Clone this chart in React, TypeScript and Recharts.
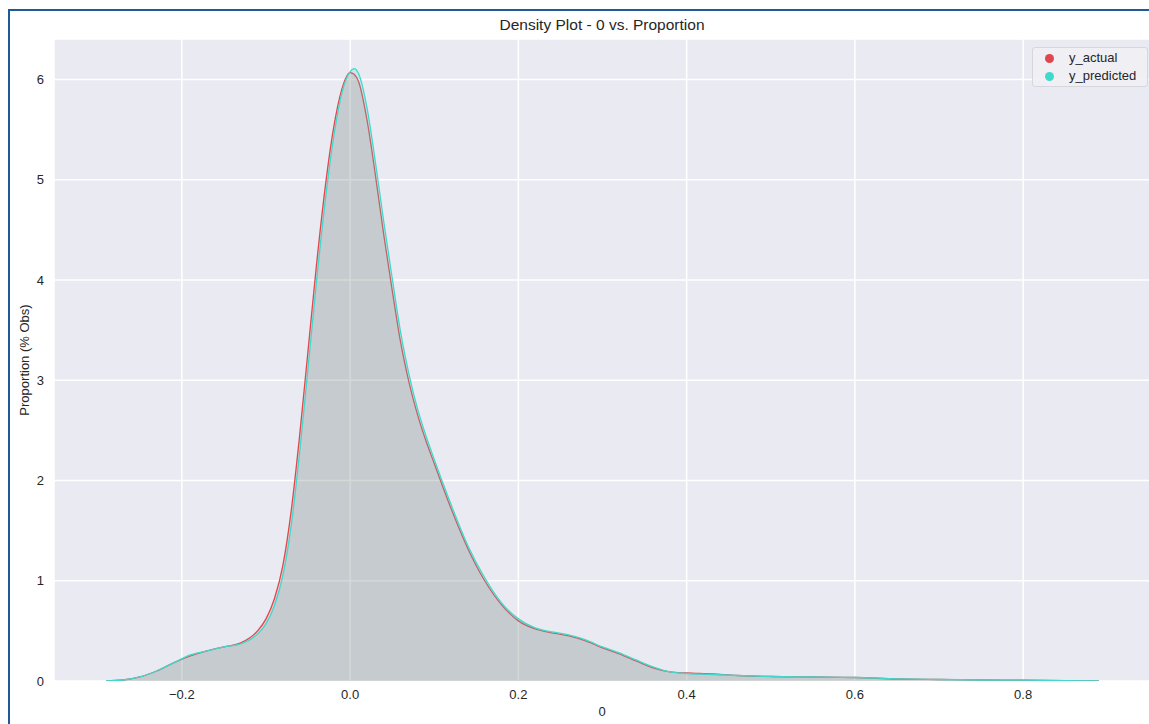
import React from "react";
import { Area, CartesianGrid, ComposedChart, XAxis, YAxis } from "recharts";

// kde sample points
const xValues = [
  -0.29, -0.27, -0.25, -0.23, -0.21, -0.19, -0.17, -0.15, -0.13, -0.11, -0.1,
  -0.09, -0.08, -0.07, -0.06, -0.05, -0.04, -0.03, -0.02, -0.01, 0, 0.005, 0.01,
  0.02, 0.03, 0.04, 0.05, 0.06, 0.07, 0.08, 0.09, 0.1, 0.12, 0.14, 0.16, 0.18,
  0.2, 0.22, 0.24, 0.26, 0.28, 0.3, 0.32, 0.34, 0.36, 0.38, 0.4, 0.43, 0.46, 0.5,
  0.55, 0.6, 0.65, 0.7, 0.75, 0.8, 0.85, 0.89,
];

const actualValues = [
  0, 0.01, 0.04, 0.1, 0.18, 0.25, 0.3, 0.34, 0.38, 0.5, 0.62, 0.82, 1.15, 1.7,
  2.45, 3.3, 4.15, 4.9, 5.5, 5.9, 6.07, 6.05, 5.98, 5.6, 5.05, 4.45, 3.9, 3.38,
  2.98, 2.66, 2.4, 2.17, 1.72, 1.32, 1.0, 0.76, 0.6, 0.52, 0.48, 0.45, 0.4, 0.33,
  0.27, 0.2, 0.13, 0.09, 0.08, 0.07, 0.055, 0.045, 0.04, 0.035, 0.02, 0.015,
  0.01, 0.008, 0.004, 0,
];

const predictedValues = [
  0, 0.01, 0.04, 0.1, 0.18, 0.26, 0.3, 0.34, 0.37, 0.47, 0.57, 0.75, 1.05, 1.55,
  2.28, 3.12, 3.98, 4.76, 5.4, 5.86, 6.08, 6.11, 6.06, 5.72, 5.18, 4.58, 4.02,
  3.48, 3.06, 2.72, 2.45, 2.21, 1.76, 1.35, 1.03, 0.78, 0.62, 0.53, 0.49, 0.46,
  0.41, 0.34, 0.28, 0.21, 0.14, 0.09, 0.075, 0.065, 0.055, 0.045, 0.04, 0.035,
  0.022, 0.015, 0.01, 0.008, 0.004, 0,
];

const xTicks = [-0.2, 0, 0.2, 0.4, 0.6, 0.8];
const yTicks = [0, 1, 2, 3, 4, 5, 6];
const seriesNames = ["y_actual", "y_predicted"];
const seriesColors = ["#e0474c", "#40d9cc"];

const FONT = "'Liberation Sans', Arial, sans-serif";
const TEXT = "#262626";

const chartData = xValues.map((x, i) => ({
  x,
  y_actual: actualValues[i],
  y_predicted: predictedValues[i],
}));

const fmtX = (v: number) => v.toFixed(1).replace("-", "\u2212");

const LegendBox = () => (
  <div
    style={{
      position: "absolute",
      left: 1032,
      top: 47,
      width: 116,
      boxSizing: "border-box",
      background: "rgba(240,240,245,0.85)",
      border: "1px solid #d6d6de",
      borderRadius: 3,
      padding: "1px 8px 1px 12px",
      fontFamily: FONT,
      fontSize: 13,
      color: TEXT,
      lineHeight: "18px",
    }}
  >
    {seriesNames.map((name, i) => (
      <div key={name} style={{ display: "flex", alignItems: "center" }}>
        <span
          style={{
            width: 9,
            height: 9,
            borderRadius: "50%",
            background: seriesColors[i],
            marginRight: 15,
          }}
        />
        <span>{name}</span>
      </div>
    ))}
  </div>
);

export default function App() {
  return (
    <div
      style={{
        position: "absolute",
        left: 0,
        top: 0,
        width: 1149,
        height: 724,
        overflow: "hidden",
        background: "#fff",
      }}
    >
      {/* screenshot frame */}
      <div
        style={{
          position: "absolute",
          left: 8,
          top: 9,
          width: 1300,
          height: 900,
          border: "2px solid #1f5a96",
          boxSizing: "border-box",
        }}
      />
      <div style={{ position: "absolute", left: 0, top: 0 }}>
        <ComposedChart
          width={1160}
          height={724}
          data={chartData}
          margin={{ top: 39, right: 9, bottom: 13, left: 0 }}
        >
          <CartesianGrid fill="#eaeaf2" stroke="#ffffff" strokeWidth={1.5} />
          <XAxis
            dataKey="x"
            type="number"
            domain={[-0.352, 0.952]}
            ticks={xTicks}
            tickFormatter={fmtX}
            axisLine={false}
            tickLine={false}
            tickSize={0}
            tickMargin={9}
            height={30}
            allowDataOverflow
            tick={{ fill: TEXT, fontSize: 13, fontFamily: FONT }}
          />
          <YAxis
            type="number"
            domain={[0, 6.405]}
            ticks={yTicks}
            axisLine={false}
            tickLine={false}
            tickSize={0}
            tickMargin={10}
            width={54}
            allowDataOverflow
            tick={{ fill: TEXT, fontSize: 13, fontFamily: FONT }}
          />
          <Area
            type="monotone"
            dataKey="y_actual"
            name={seriesNames[0]}
            stroke={seriesColors[0]}
            strokeWidth={1.3}
            fill={seriesColors[0]}
            fillOpacity={0.2}
            baseValue={0}
            dot={false}
            activeDot={false}
            isAnimationActive={false}
          />
          <Area
            type="monotone"
            dataKey="y_predicted"
            name={seriesNames[1]}
            stroke={seriesColors[1]}
            strokeWidth={1.3}
            fill={seriesColors[1]}
            fillOpacity={0.2}
            baseValue={0}
            dot={false}
            activeDot={false}
            isAnimationActive={false}
          />
        </ComposedChart>
      </div>
      <LegendBox />
      <div
        style={{
          position: "absolute",
          left: 402,
          width: 400,
          top: 16,
          textAlign: "center",
          fontFamily: FONT,
          fontSize: 15.5,
          color: TEXT,
        }}
      >
        Density Plot - 0 vs. Proportion
      </div>
      <div
        style={{
          position: "absolute",
          left: 502,
          width: 200,
          top: 704,
          textAlign: "center",
          fontFamily: FONT,
          fontSize: 13,
          color: TEXT,
        }}
      >
        0
      </div>
      <div
        style={{
          position: "absolute",
          left: 24,
          top: 360,
          transform: "translate(-50%, -50%) rotate(-90deg)",
          whiteSpace: "nowrap",
          fontFamily: FONT,
          fontSize: 13,
          color: TEXT,
        }}
      >
        Proportion (% Obs)
      </div>
    </div>
  );
}
